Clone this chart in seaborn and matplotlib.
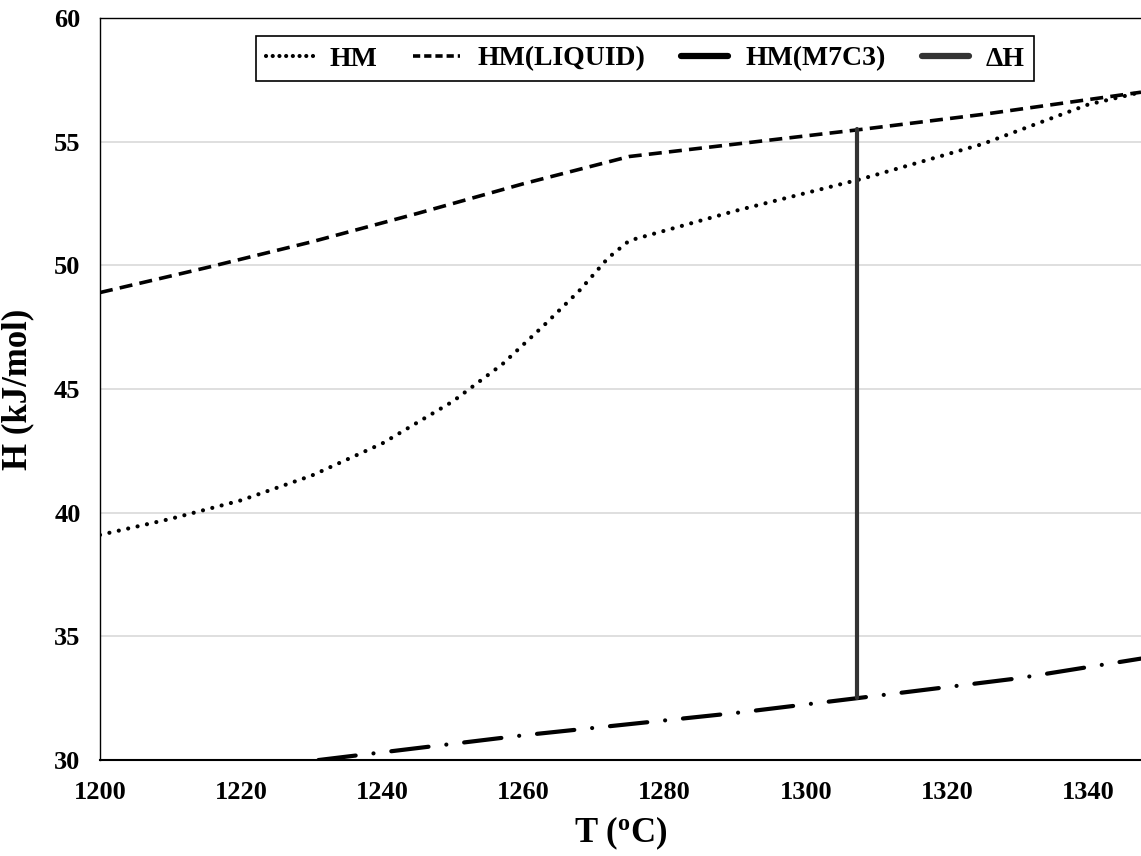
import matplotlib
matplotlib.use("Agg")
import matplotlib.pyplot as plt
from matplotlib.lines import Line2D
import seaborn as sns

# Values
temp_hm = [1200, 1210, 1220, 1230, 1240, 1250, 1257, 1263, 1268, 1272, 1275, 1290, 1308, 1325, 1340, 1347.5]
hm_total = [39.1, 39.75, 40.5, 41.5, 42.8, 44.5, 46.0, 47.6, 49.0, 50.3, 51.0, 52.2, 53.5, 54.9, 56.5, 57.0]

temp_liq = [1200, 1215, 1230, 1245, 1260, 1275, 1290, 1308, 1325, 1347.5]
hm_liquid = [48.9, 49.9, 50.95, 52.1, 53.3, 54.4, 54.9, 55.5, 56.1, 57.0]

temp_m7c3 = [1200, 1231, 1260, 1290, 1307.3, 1330, 1347.5]
hm_m7c3 = [28.9, 30.0, 31.0, 31.9, 32.5, 33.3, 34.1]

delta_t = [1307.3, 1307.3]
delta_h = [32.5, 55.5]

series_names = ["HM", "HM(LIQUID)", "HM(M7C3)", "\u0394H"]
x_ticks = [1200, 1220, 1240, 1260, 1280, 1300, 1320, 1340]
y_ticks = [30, 35, 40, 45, 50, 55, 60]

sns.set_theme(style="white")
plt.rcParams["font.family"] = ["Liberation Serif", "DejaVu Serif"]
plt.rcParams["font.weight"] = "bold"
plt.rcParams["text.color"] = "black"
plt.rcParams["axes.labelcolor"] = "black"
plt.rcParams["xtick.color"] = "black"
plt.rcParams["ytick.color"] = "black"
plt.rcParams["mathtext.fontset"] = "custom"
plt.rcParams["mathtext.rm"] = "Liberation Serif:bold"
plt.rcParams["mathtext.it"] = "Liberation Serif:bold"

fig = plt.figure(figsize=(11.41, 8.56), dpi=100)
ax = fig.add_axes([100 / 1141, 96 / 856, 1041 / 1141, 742 / 856])

# HM (dotted)
sns.lineplot(x=temp_hm, y=hm_total, ax=ax, color="black", lw=3.0, legend=False)
ln = ax.lines[-1]
ln.set_dashes((0.01, 2.3))
ln.set_dash_capstyle("round")

# HM(LIQUID) (dashed)
sns.lineplot(x=temp_liq, y=hm_liquid, ax=ax, color="black", lw=2.6, legend=False)
ln = ax.lines[-1]
ln.set_dashes((3.6, 2.0))

# HM(M7C3) (long dash-dot)
sns.lineplot(x=temp_m7c3, y=hm_m7c3, ax=ax, color="black", lw=3.0, legend=False)
ln = ax.lines[-1]
ln.set_dashes((9.0, 4.3, 0.01, 4.3))
ln.set_dash_capstyle("round")

# Delta H (vertical solid)
sns.lineplot(x=delta_t, y=delta_h, ax=ax, color="#333333", lw=3.0, legend=False,
             estimator=None, sort=False)

ax.set_xlim(1200, 1347.5)
ax.set_ylim(30, 60)
ax.set_xticks(x_ticks)
ax.set_yticks(y_ticks)
ax.yaxis.grid(True, color="#d9d9d9", lw=1.2)
ax.xaxis.grid(False)
ax.set_axisbelow(True)

for side in ["left", "top", "bottom"]:
    ax.spines[side].set_visible(True)
    ax.spines[side].set_color("black")
ax.spines["left"].set_linewidth(1.0)
ax.spines["top"].set_linewidth(1.0)
ax.spines["bottom"].set_linewidth(1.5)
ax.spines["right"].set_visible(False)

ax.tick_params(axis="both", length=0, labelsize=19)
ax.tick_params(axis="x", pad=15)
ax.tick_params(axis="y", pad=14)
for lab in ax.get_xticklabels() + ax.get_yticklabels():
    lab.set_fontweight("bold")

ax.set_xlabel(r"T ($^{o}$C)", fontsize=25, fontweight="bold", labelpad=8)
ax.set_ylabel("H (kJ/mol)", fontsize=25, fontweight="bold", labelpad=14)

handles = [
    Line2D([], [], color="black", lw=3.0, dashes=(0.01, 1.6), dash_capstyle="round"),
    Line2D([], [], color="black", lw=2.6, dashes=(2.0, 1.1)),
    Line2D([], [], color="black", lw=4.5),
    Line2D([], [], color="#333333", lw=4.5),
]
leg = ax.legend(handles, series_names, loc="center", bbox_to_anchor=(0.5235, 0.945),
                ncol=4, fontsize=20, frameon=True, fancybox=False, framealpha=1,
                edgecolor="black", handlelength=1.7, handletextpad=0.6,
                columnspacing=1.3, borderpad=0.35)
leg.get_frame().set_linewidth(1.2)
for t in leg.get_texts():
    t.set_fontweight("bold")

fig.savefig("out.png", dpi=100)
